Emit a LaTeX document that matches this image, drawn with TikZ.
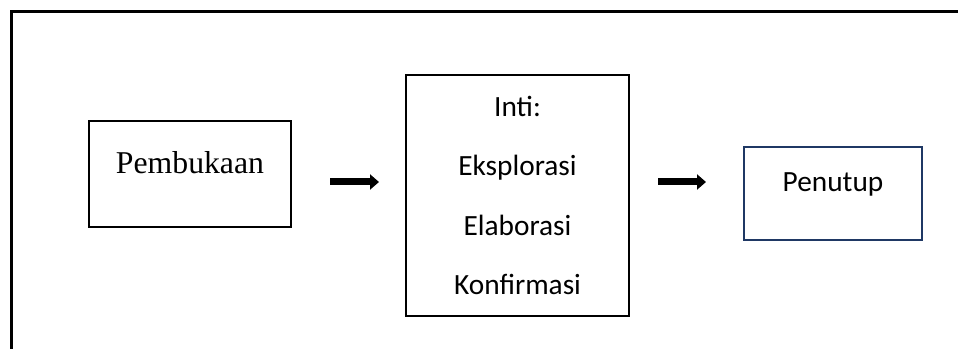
\documentclass[tikz,border=0pt]{standalone}
\usepackage{fontspec}
\setmainfont{Carlito}
\newfontfamily\timesfont{Liberation Serif}
\usetikzlibrary{arrows.meta}

\begin{document}
\begin{tikzpicture}[x=0.75pt,y=0.75pt,yscale=-1,xscale=1,
  box/.style={draw, line width=1.5pt, inner ysep=0pt, inner xsep=0pt},
  flow/.style={line width=5.25pt, -{Triangle[length=6.75pt 0, width=11.25pt 0]}}]
\useasboundingbox (0,0) rectangle (958,349);

%Shape: Frame (cut by the page)
\draw [line width=2.25pt]  (11.5,360) -- (11.5,11.5) -- (970,11.5) ;

%Shape: Rectangle [Pembukaan]
\node [box, minimum width=202*0.75pt, text height=39.75pt, text depth=39.75pt, font=\timesfont\fontsize{23.8}{28}\selectfont] (pembukaan) at (190,174) {Pembukaan};

%Shape: Rectangle [Inti]
\node [box, minimum width=223*0.75pt, minimum height=241*0.75pt, align=center, font=\fontsize{22}{44.6}\selectfont] (inti) at (517.5,195.5) {Inti:\\Eksplorasi\\Elaborasi\\Konfirmasi};

%Shape: Rectangle [Penutup]
\node [box, draw={rgb, 255:red, 31; green, 56; blue, 100 }, minimum width=178*0.75pt, text height=33.75pt, text depth=36pt, font=\fontsize{22}{26}\selectfont] (penutup) at (833,193.5) {Penutup};

%Arrows
\coordinate (a1) at ([yshift=6pt]pembukaan.east);
\coordinate (a2) at (inti.east |- a1);
\draw [flow, shorten <=28.5pt, shorten >=19.5pt] (a1) -- (a1 -| inti.west);
\draw [flow, shorten <=21pt, shorten >=27.75pt] (a2) -- (a2 -| penutup.west);

\end{tikzpicture}
\end{document}
